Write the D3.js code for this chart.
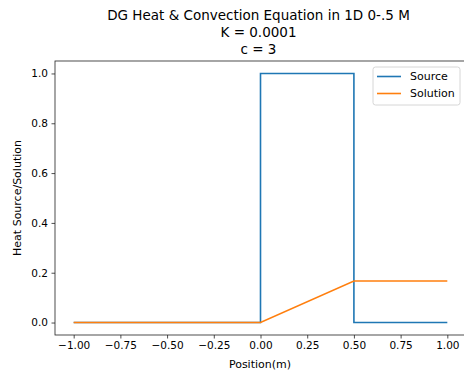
<!DOCTYPE html>
<html>
<head>
<meta charset="utf-8">
<script src="https://d3js.org/d3.v7.min.js"></script>
<style>
  body { margin: 0; background: #fff; }
  text { font-family: "DejaVu Sans", sans-serif; fill: #000; }
</style>
</head>
<body>
<script>
// data
const sourceX = [-1.0, 0.0, 0.0, 0.5, 0.5, 1.0];
const sourceY = [0.0, 0.0, 1.0, 1.0, 0.0, 0.0];
const solutionX = [-1.0, 0.0, 0.5, 1.0];
const solutionY = [0.0, 0.0, 0.167, 0.167];
const xTicks = [-1.0, -0.75, -0.5, -0.25, 0.0, 0.25, 0.5, 0.75, 1.0];
const yTicks = [0.0, 0.2, 0.4, 0.6, 0.8, 1.0];
const titleLines = ['DG Heat & Convection Equation in 1D 0-.5 M', 'K = 0.0001', 'c = 3'];

var svgWidth = 464, svgHeight = 372;
var plotLeft = 55, plotRight = 466, plotTop = 61, plotBottom = 335;

var svg = d3.select('body')
    .append('svg')
    .attr('width', svgWidth)
    .attr('height', svgHeight);

var x = d3.scaleLinear().domain([-1.1, 1.1]).range([plotLeft, plotRight]);
var y = d3.scaleLinear().domain([-0.05, 1.05]).range([plotBottom, plotTop]);

var line = d3.line()
    .x(function(d) { return x(d[0]); })
    .y(function(d) { return y(d[1]); });

var sourcePts = sourceX.map(function(v, i) { return [v, sourceY[i]]; });
var solutionPts = solutionX.map(function(v, i) { return [v, solutionY[i]]; });

svg.append('path')
    .datum(sourcePts)
    .attr('d', line)
    .attr('fill', 'none')
    .attr('stroke', '#1f77b4')
    .attr('stroke-width', 1.6);

svg.append('path')
    .datum(solutionPts)
    .attr('d', line)
    .attr('fill', 'none')
    .attr('stroke', '#ff7f0e')
    .attr('stroke-width', 1.6);

// axes, matplotlib style minus sign
var fmt2 = d3.format('.2f'), fmt1 = d3.format('.1f');
var xAxis = d3.axisBottom(x).tickValues(xTicks).tickSize(3.5).tickPadding(3.5)
    .tickFormat(function(d) { return fmt2(d).replace('-', '\u2212'); });
var yAxis = d3.axisLeft(y).tickValues(yTicks).tickSize(3.5).tickPadding(3.5)
    .tickFormat(function(d) { return fmt1(d); });

var gx = svg.append('g').attr('transform', 'translate(0,' + plotBottom + ')').call(xAxis);
var gy = svg.append('g').attr('transform', 'translate(' + plotLeft + ',0)').call(yAxis);

[gx, gy].forEach(function(g) {
    g.select('.domain').remove();
    g.selectAll('line').attr('stroke', '#222').attr('stroke-width', 0.8);
    g.selectAll('text').style('font-size', '10.5px').attr('fill', '#222').attr('font-family', null);
});

// frame
svg.append('rect')
    .attr('x', plotLeft)
    .attr('y', plotTop)
    .attr('width', plotRight - plotLeft)
    .attr('height', plotBottom - plotTop)
    .attr('fill', 'none')
    .attr('stroke', '#222')
    .attr('stroke-width', 0.8);

// title
svg.append('text')
    .attr('text-anchor', 'middle')
    .style('font-size', '13.5px')
    .selectAll('tspan')
    .data(titleLines)
    .enter().append('tspan')
    .attr('x', 258.5)
    .attr('y', function(d, i) { return 19.5 + i * 17.3; })
    .text(function(d) { return d; });

// axis labels
svg.append('text')
    .attr('x', 260)
    .attr('y', 368)
    .attr('text-anchor', 'middle')
    .style('font-size', '11px')
    .text('Position(m)');

svg.append('text')
    .attr('transform', 'rotate(-90)')
    .attr('x', -(plotTop + plotBottom) / 2)
    .attr('y', 21)
    .attr('text-anchor', 'middle')
    .style('font-size', '11px')
    .text('Heat Source/Solution');

// legend
var legend = svg.append('g').attr('transform', 'translate(373,67)');
legend.append('rect')
    .attr('width', 87)
    .attr('height', 38)
    .attr('rx', 2.5)
    .attr('fill', 'rgba(255,255,255,0.8)')
    .attr('stroke', '#cccccc')
    .attr('stroke-width', 0.8);

var entries = [['Source', '#1f77b4'], ['Solution', '#ff7f0e']];
var item = legend.selectAll('g.item')
    .data(entries)
    .enter().append('g')
    .attr('transform', function(d, i) { return 'translate(0,' + (9.5 + i * 17) + ')'; });
item.append('line')
    .attr('x1', 4).attr('x2', 28)
    .attr('stroke', function(d) { return d[1]; })
    .attr('stroke-width', 1.6);
item.append('text')
    .attr('x', 37)
    .attr('dy', '0.35em')
    .style('font-size', '11px')
    .text(function(d) { return d[0]; });
</script>
</body>
</html>
